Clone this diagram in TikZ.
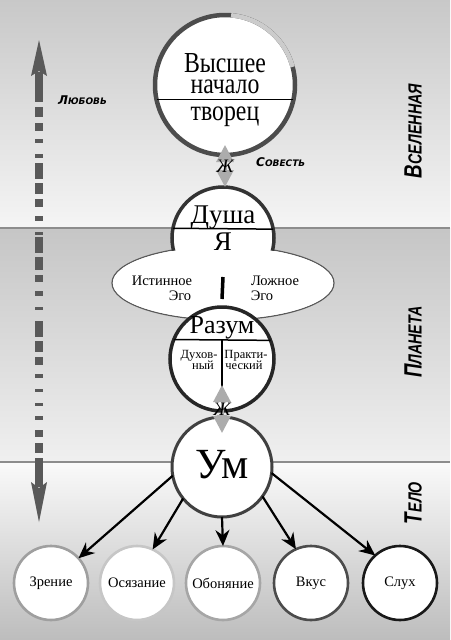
\documentclass[tikz,border=0pt]{standalone}
\usepackage{fontspec}
\setmainfont{Liberation Serif}
\newfontfamily\condfont[FakeStretch=0.82]{Liberation Serif}
\newfontfamily\sidefont[FakeStretch=0.75]{Liberation Sans}
\newfontfamily\notefont{DejaVu Sans}
\usetikzlibrary{arrows.meta,shapes.geometric}
\begin{document}
\begin{tikzpicture}[x=1pt,y=-1pt,
  ring/.style={circle, draw, fill=white, inner sep=0pt, outer sep=0pt},
  sense/.style={ring, minimum size=74pt, line width=2.6pt, font=\fontsize{14.5}{14.5}\selectfont},
  lbl/.style={anchor=base, inner sep=0pt},
  side/.style={rotate=90, inner sep=0pt, font=\sidefont\bfseries\itshape},
  note/.style={inner sep=0pt, font=\notefont\bfseries\itshape},
  dbl/.style={line width=3pt, gray!65, {Triangle[length=17pt,width=17pt]}-{Triangle[length=17pt,width=17pt]}},
  glyph/.style={inner sep=0pt, font=\itshape\fontsize{19}{19}\selectfont},
  ray/.style={line width=2.2pt, -{Stealth[length=16pt,width=14pt]}},
  bar/.style={black!65}]
\useasboundingbox (0,0) rectangle (450,640);
\shade[top color=gray!43, bottom color=gray!8] (0,0) rectangle (450,228);
\shade[top color=gray!45, bottom color=gray!12] (0,228) rectangle (450,462);
\shade[top color=gray!4, bottom color=gray!52] (0,462) rectangle (450,640);
\draw[line width=2pt, gray!90] (0,228) -- (450,228);
\draw[line width=2pt, gray!90] (0,462) -- (450,462);

\fill[bar] (39,40) -- (47,76) -- (39,71) -- (31,76) -- cycle;
\fill[bar] (35,72) rectangle (43,102);
\foreach \a/\b in {107/117,123/131,139/143,154/158,163/179,183/194,199/207,216/221,232/235,237/253,
  257/270,275/282,291/296,307/310,321/337,341/352,357/365,374/378,389/392,403/406,416/420,430/437,443/453}
  \fill[bar] (35,\a) rectangle (43,\b);
\fill[bar] (35,458) rectangle (43,487);
\fill[bar] (31,482) -- (39,488) -- (47,482) -- (39,522) -- cycle;

\node[ring, minimum size=140pt, line width=4.5pt, draw=black!70] (hi) at (225,85){};
\draw[line width=4.5pt, gray!40] (hi.85) arc[start angle=-85, end angle=-15, radius=70];
\draw[line width=1.5pt] (hi.-12.4) -- (hi.192.4);
\node[lbl, font=\condfont\fontsize{29}{29}\selectfont] (hi1) at (225,72){Высшее};
\node[lbl, text height=14pt, font=\condfont\fontsize{29}{29}\selectfont] (hi2) at (225,93){начало};
\node[lbl, font=\condfont\fontsize{29}{29}\selectfont] (hi3) at (225,120){творец};

\node[ellipse, draw=gray!70!black, fill=white, line width=1.2pt, inner sep=0pt,
  minimum width=222pt, minimum height=74pt] (ego) at (223,283){};
\node[ring, minimum size=102pt, line width=3.5pt, draw=black!80] (dusha) at (223,238){};
\fill[white] (ego.center) ellipse [x radius=110pt, y radius=36pt];
\draw[line width=1.5pt] (dusha.10.2) -- (dusha.169.8);
\node[lbl, font=\fontsize{27}{27}\selectfont] (dusha1) at (223,223){Душа};
\node[lbl, font=\fontsize{27}{27}\selectfont] (dusha2) at (223,250){Я};
\node[lbl, font=\fontsize{14.5}{14.5}\selectfont] (ego1) at (162,285){Истинное};
\node[lbl, font=\fontsize{14.5}{14.5}\selectfont] (ego2) at (180,300){Эго};
\node[lbl, font=\fontsize{14.5}{14.5}\selectfont] (ego3) at (275,285){Ложное};
\node[lbl, font=\fontsize{14.5}{14.5}\selectfont] (ego4) at (262,300){Эго};

\node[ring, minimum size=104pt, line width=3.5pt, draw=black!85] (razum) at (222,359){};
\draw[line width=3.5pt] ([yshift=6pt]ego.center) -- ([yshift=8pt]razum.north);
\draw[line width=1.5pt] (razum.21.4) -- (razum.158.6);
\draw[line width=1.5pt] (razum.center |- razum.21.4) -- (razum.south);
\node[lbl, font=\fontsize{26}{26}\selectfont] (razum1) at (222,333){Разум};
\node[lbl, font=\fontsize{12.5}{12.5}\selectfont] (razum2) at (199,358){Духов-};
\node[lbl, font=\fontsize{12.5}{12.5}\selectfont] (razum3) at (203,369){ный};
\node[lbl, font=\fontsize{12.5}{12.5}\selectfont] (razum4) at (246,358){Практи-};
\node[lbl, font=\fontsize{12.5}{12.5}\selectfont] (razum5) at (244,369){ческий};

\node[ring, minimum size=100pt, line width=3pt, draw=black!75] (um) at (222,467){};
\node[lbl, font=\fontsize{43}{43}\selectfont] (um1) at (222,478){Ум};

\draw[dbl] ([yshift=10pt]hi.south) -- (hi.south |- dusha.north);
\node[glyph] (zh1) at (225,166){Ж};
\draw[dbl] ([yshift=26pt]razum.south) -- ([yshift=-16pt]um.north);
\node[glyph] (zh2) at (222,409){Ж};

\node[sense, draw=gray!75] (s1) at (51,583){Зрение};
\node[sense, draw=gray!45] (s2) at (137,583){Осязание};
\node[sense, draw=gray!70] (s3) at (223,583){Обоняние};
\node[sense, draw=black!70] (s4) at (311,583){Вкус};
\node[sense, draw=black!90] (s5) at (400,583){Слух};
\draw[ray] (um.190) -- (s1.42);
\draw[ray] (um.219) -- (s2.65);
\draw[ray] (um.south) -- (s3.north);
\draw[ray] (um.-36) -- (s4.114);
\draw[ray] (um.-7) -- (s5.132);

\node[note, anchor=west] (love) at (58,100){{\fontsize{12}{12}\selectfont Л}{\fontsize{9}{9}\selectfont ЮБОВЬ}};
\node[note, anchor=west] (conscience) at (256,162){{\fontsize{12}{12}\selectfont С}{\fontsize{9}{9}\selectfont ОВЕСТЬ}};
\node[side] (universe) at (413,131){{\fontsize{25}{25}\selectfont В}{\fontsize{19}{19}\selectfont СЕЛЕННАЯ}};
\node[side] (planet) at (413,342){{\fontsize{25}{25}\selectfont П}{\fontsize{19}{19}\selectfont ЛАНЕТА}};
\node[side] (body) at (413,503){{\fontsize{25}{25}\selectfont Т}{\fontsize{19}{19}\selectfont ЕЛО}};
\end{tikzpicture}
\end{document}
